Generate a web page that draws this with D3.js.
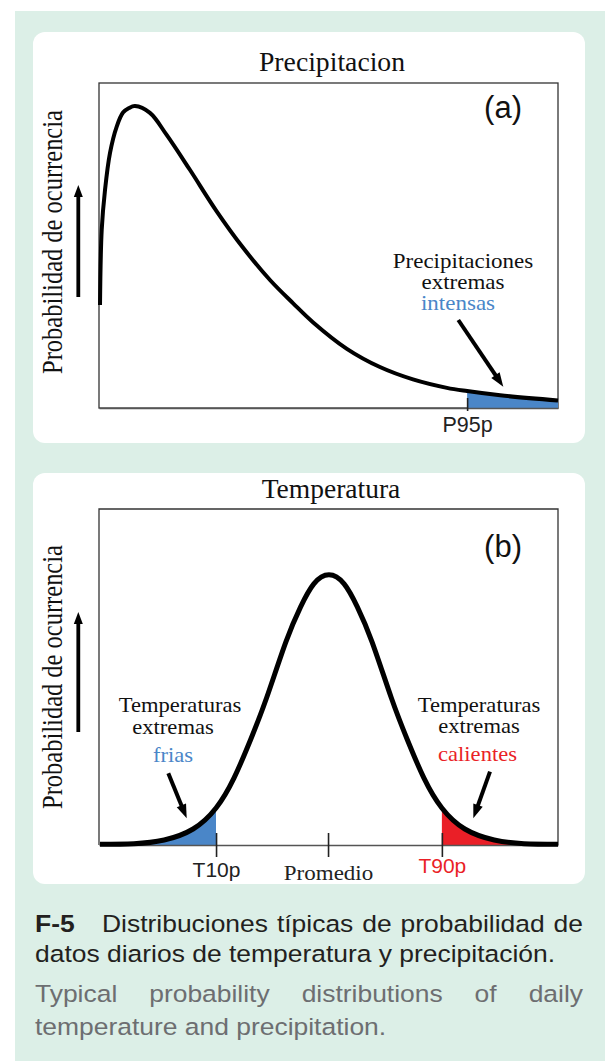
<!DOCTYPE html>
<html><head><meta charset="utf-8">
<script src="https://cdn.jsdelivr.net/npm/d3@7"></script>
<style>html,body{margin:0;padding:0;background:#fff;} svg{display:block;}</style>
</head><body>
<svg id="c" width="605" height="1061"></svg>
<script>
// ---------- DATA ----------
const precipX = [0.22, 0.59, 1.31, 2.40, 3.86, 5.23, 6.54, 7.84, 11.1, 14.7, 19.8, 25.6, 31.4, 37.3, 42.3, 46.6, 54.0, 61.2, 68.4, 75.8, 80.2, 87.4, 100];
const precipY = [31.7, 54.8, 67.1, 78.5, 86.6, 90.9, 92.3, 92.9, 90.8, 84.1, 73.3, 60.6, 49.3, 39.3, 32.2, 26.4, 18.2, 12.6, 8.8, 6.2, 5.2, 3.9, 2.3];
const precipTickValues = [80.2];
const precipTickLabels = ["P95p"];

const tempX = [0.22, 7.6, 14.2, 20.5, 25.5, 29.4, 33.0, 36.5, 40.7, 43.9, 46.8, 50.1, 53.4, 56.3, 59.5, 63.7, 67.2, 70.8, 74.7, 79.7, 86.1, 92.6, 100];
const tempY = [0.24, 0.39, 1.49, 4.76, 11.0, 19.9, 31.25, 43.75, 60.4, 70.8, 77.7, 80.4, 77.7, 70.8, 60.4, 43.75, 31.25, 19.9, 11.0, 4.76, 1.49, 0.39, 0.24];
const tempTickValues = [25.5, 49.9, 74.7];
const tempTickLabels = ["T10p", "Promedio", "T90p"];

const panelTitles = ["Precipitacion", "Temperatura"];
const panelTags = ["(a)", "(b)"];
const yAxisLabel = "Probabilidad de ocurrencia";
const precipNote = ["Precipitaciones", "extremas", "intensas"];
const coldNote = ["Temperaturas", "extremas", "frias"];
const hotNote = ["Temperaturas", "extremas", "calientes"];
const captionES = ["F-5", "Distribuciones típicas de probabilidad de", "datos diarios de temperatura y precipitación."];
const captionEN = ["Typical probability distributions of daily", "temperature and precipitation."];

// ---------- STYLE ----------
const SERIF = "'Liberation Serif','Times New Roman',serif";
const SANS = "'Liberation Sans',Arial,Helvetica,sans-serif";
const BLUE = "#4a86c8", RED = "#ea1f27", MINT = "#dcefe7";

const svg = d3.select("#c");
svg.append("rect").attr("x", 15).attr("y", 11).attr("width", 590).attr("height", 1050).attr("fill", MINT);
[32, 473].forEach(y => svg.append("rect").attr("x", 33).attr("y", y).attr("width", 552).attr("height", 411).attr("rx", 12).attr("fill", "#fff"));

function label(g, s, x, y, o = {}) {
  return g.append("text").text(s)
    .attr("transform", `translate(${x},${y}) scale(${o.sx || 1},1)` + (o.rot ? ` rotate(${o.rot})` : ""))
    .attr("text-anchor", o.anchor || "middle")
    .attr("font-family", o.font || SERIF)
    .attr("font-size", o.size || 20)
    .attr("font-weight", o.weight || "normal")
    .attr("fill", o.fill || "#111");
}
function arrow(g, x1, y1, x2, y2, w, hl, hw) {
  const dx = x2 - x1, dy = y2 - y1, L = Math.hypot(dx, dy), ux = dx / L, uy = dy / L;
  const bx = x2 - ux * hl, by = y2 - uy * hl, nx = -uy, ny = ux;
  g.append("line").attr("x1", x1).attr("y1", y1).attr("x2", bx + ux).attr("y2", by + uy)
    .attr("stroke", "#000").attr("stroke-width", w);
  g.append("path").attr("d", `M${x2},${y2}L${bx + nx * hw / 2},${by + ny * hw / 2}L${bx - nx * hw / 2},${by - ny * hw / 2}Z`).attr("fill", "#000");
}
const smoothP = d3.curveCatmullRom.alpha(0.5);
const smoothT = d3.curveNatural;

// ---------- PANEL A: PRECIPITATION ----------
const gA = svg.append("g");
const xP = d3.scaleLinear().domain([0, 100]).range([99, 558]);
const yP = d3.scaleLinear().domain([0, 100]).range([408, 83]);
const precip = precipX.map((x, i) => ({ x, y: precipY[i] }));

gA.append("rect").attr("x", xP(0)).attr("y", yP(100)).attr("width", xP(100) - xP(0)).attr("height", yP(0) - yP(100))
  .attr("fill", "none").attr("stroke", "#333").attr("stroke-width", 1.3);

const areaP = d3.area().x(d => xP(d.x)).y0(yP(0)).y1(d => yP(d.y)).curve(smoothP);
gA.append("path").attr("d", areaP(precip.filter(d => d.x >= precipTickValues[0]))).attr("fill", BLUE);

const axA = gA.append("g").attr("transform", `translate(0,${yP(0)})`)
  .call(d3.axisBottom(xP).tickValues(precipTickValues).tickFormat((d, i) => precipTickLabels[i]).tickSizeOuter(0));
axA.select(".domain").attr("stroke", "#555").attr("stroke-width", 1.3);
axA.selectAll(".tick line").attr("y1", -10).attr("y2", 3).attr("stroke", "#222").attr("stroke-width", 1.6);
axA.selectAll(".tick text").attr("y", 24).attr("dy", 0).attr("font-family", SANS).attr("font-size", 21.5).attr("fill", "#222");

gA.append("path").attr("d", d3.line().x(d => xP(d.x)).y(d => yP(d.y)).curve(smoothP)(precip))
  .attr("fill", "none").attr("stroke", "#000").attr("stroke-width", 4).attr("stroke-linejoin", "round");

label(gA, panelTitles[0], 332, 71, { size: 27.7 });
label(gA, panelTags[0], 503, 118, { font: SANS, size: 31 });
label(gA, yAxisLabel, 62, 242, { size: 24.5, sx: 1.2, rot: -90 });
arrow(gA, 78.3, 297, 78.3, 185, 3.8, 12, 9);
label(gA, precipNote[0], 463, 268, { size: 20, sx: 1.15 });
label(gA, precipNote[1], 463, 289, { size: 20, sx: 1.15 });
label(gA, precipNote[2], 458, 310, { size: 20, sx: 1.15, fill: BLUE });
arrow(gA, 458.3, 320, 503.3, 386.7, 4, 14, 10);

// ---------- PANEL B: TEMPERATURE ----------
const gB = svg.append("g");
const xT = d3.scaleLinear().domain([0, 100]).range([99, 558]);
const yT = d3.scaleLinear().domain([0, 100]).range([845, 509]);
const temp = tempX.map((x, i) => ({ x, y: tempY[i] }));

gB.append("path").attr("d", `M${xT(0)},${yT(0)}V${yT(100)}H${xT(100)}V${yT(0)}`)
  .attr("fill", "none").attr("stroke", "#333").attr("stroke-width", 1.3);

const lo = tempTickValues[0], hi = tempTickValues[2];
const tempLine = d3.line().x(d => xT(d.x)).y(d => yT(d.y)).curve(smoothT);
const defs = svg.append("defs");
defs.append("clipPath").attr("id", "cold").append("rect")
  .attr("x", xT(10)).attr("y", yT(100)).attr("width", xT(lo) - xT(10)).attr("height", yT(0) - yT(100));
defs.append("clipPath").attr("id", "hot").append("rect")
  .attr("x", xT(hi)).attr("y", yT(100)).attr("width", xT(90) - xT(hi)).attr("height", yT(0) - yT(100));
const areaT = d3.area().x(d => xT(d.x)).y0(yT(0)).y1(d => yT(d.y)).curve(smoothT);
gB.append("path").attr("d", areaT(temp)).attr("fill", BLUE).attr("clip-path", "url(#cold)");
gB.append("path").attr("d", areaT(temp)).attr("fill", RED).attr("clip-path", "url(#hot)");

const axB = gB.append("g").attr("transform", `translate(0,${yT(0)})`)
  .call(d3.axisBottom(xT).tickValues(tempTickValues).tickFormat((d, i) => tempTickLabels[i]).tickSizeOuter(0));
axB.select(".domain").attr("stroke", "#555").attr("stroke-width", 1.3);
axB.selectAll(".tick line").attr("y1", -12).attr("y2", 12).attr("stroke", "#222").attr("stroke-width", 1.6);
axB.selectAll(".tick text").attr("dy", 0)
  .attr("y", (d, i) => [32, 35, 28][i])
  .attr("font-family", (d, i) => i === 1 ? SERIF : SANS)
  .attr("font-size", (d, i) => i === 1 ? 20 : 21)
  .attr("transform", (d, i) => i === 1 ? "scale(1.15,1)" : null)
  .attr("fill", (d, i) => i === 2 ? RED : "#222");

gB.append("path").attr("d", tempLine(temp))
  .attr("fill", "none").attr("stroke", "#000").attr("stroke-width", 5).attr("stroke-linejoin", "round");

label(gB, panelTitles[1], 331, 498, { size: 27.5 });
label(gB, panelTags[1], 503, 557, { font: SANS, size: 31 });
label(gB, yAxisLabel, 62, 677, { size: 24.5, sx: 1.2, rot: -90 });
arrow(gB, 78.3, 732, 78.3, 612, 3.8, 12, 9);
label(gB, coldNote[0], 180, 712, { size: 20, sx: 1.13 });
label(gB, coldNote[1], 173, 734, { size: 20, sx: 1.13 });
label(gB, coldNote[2], 173, 762, { size: 20, sx: 1.13, fill: BLUE });
arrow(gB, 168.3, 773.3, 186.7, 818.3, 4, 14, 10);
label(gB, hotNote[0], 479, 712, { size: 20, sx: 1.13 });
label(gB, hotNote[1], 479, 733, { size: 20, sx: 1.13 });
label(gB, hotNote[2], 477.5, 761, { size: 20, sx: 1.13, fill: RED });
arrow(gB, 490, 771.7, 473.3, 818.3, 4, 14, 10);

// ---------- CAPTION ----------
const SX = 1.135, FS = 23.3, W = 548 / SX;
const cap = svg.append("g").attr("transform", `translate(35,0) scale(${SX},1)`)
  .attr("font-family", SANS).attr("font-size", FS);
function justify(words, x0, x1, y, fill) {
  const els = words.map(w => cap.append("text").text(w).attr("y", y).attr("fill", fill));
  const widths = els.map(e => e.node().getComputedTextLength());
  const gap = (x1 - x0 - d3.sum(widths)) / (words.length - 1);
  let x = x0;
  els.forEach((e, i) => { e.attr("x", x); x += widths[i] + gap; });
}
cap.append("text").text(captionES[0]).attr("x", 0).attr("y", 932).attr("font-weight", "bold").attr("fill", "#231f20");
justify(captionES[1].split(" "), (102 - 35) / SX, W, 932, "#231f20");
cap.append("text").text(captionES[2]).attr("x", 0).attr("y", 962).attr("fill", "#231f20");
justify(captionEN[0].split(" "), 0, W, 1002, "#6d6e71");
cap.append("text").text(captionEN[1]).attr("x", 0).attr("y", 1035).attr("fill", "#6d6e71");
</script>
</body></html>
